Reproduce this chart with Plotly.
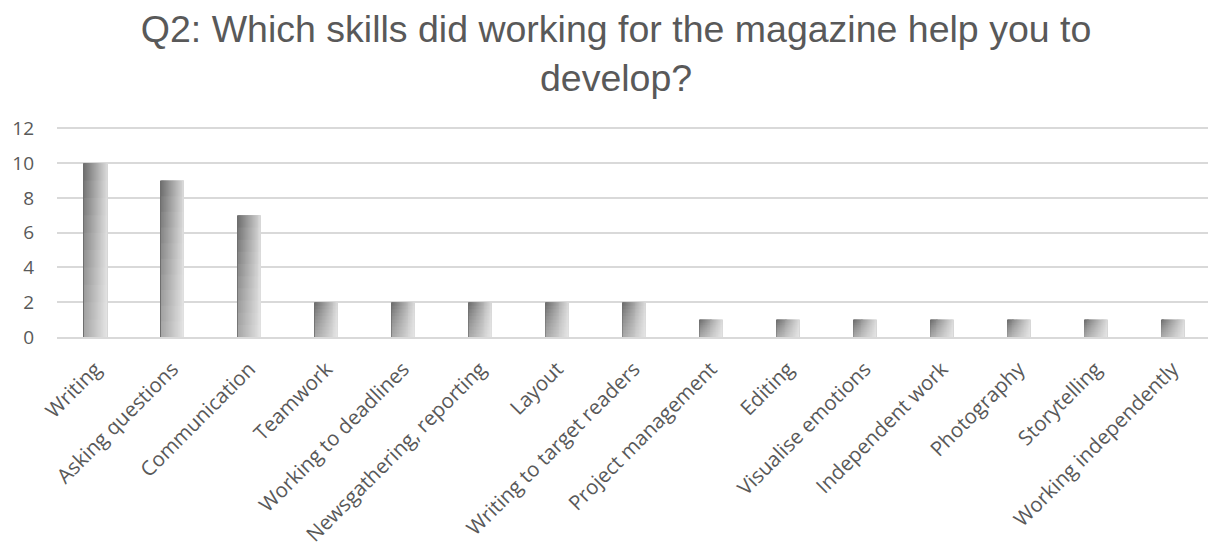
import plotly.graph_objects as go

categories = ["Writing", "Asking questions", "Communication", "Teamwork",
              "Working to deadlines", "Newsgathering, reporting", "Layout",
              "Writing to target readers", "Project management", "Editing",
              "Visualise emotions", "Independent work", "Photography",
              "Storytelling", "Working independently"]
values = [10, 9, 7, 2, 2, 2, 2, 2, 1, 1, 1, 1, 1, 1, 1]
y_ticks = [0, 2, 4, 6, 8, 10, 12]

title_text = "Q2: Which skills did working for the magazine help you to<br>develop?"

fig = go.Figure()

bar_w = 0.30
n_strips = 24
dark = (110, 110, 110)
light = (215, 215, 215)
for i in range(n_strips):
    t = i / (n_strips - 1)
    c = tuple(int(dark[k] + (light[k] - dark[k]) * t) for k in range(3))
    fig.add_trace(go.Bar(
        x=categories, y=values,
        width=bar_w / n_strips * 1.6 if i < n_strips - 1 else bar_w / n_strips,
        offset=-bar_w / 2 + i * bar_w / n_strips,
        marker=dict(color="rgb(%d,%d,%d)" % c, line=dict(width=0)),
        showlegend=False, hoverinfo="skip",
    ))

# vertical lightening toward the bottom
n_layers = 10
for j in range(1, n_layers):
    frac = 1 - j / n_layers
    fig.add_trace(go.Bar(
        x=categories, y=[v * frac for v in values],
        width=bar_w, offset=-bar_w / 2,
        marker=dict(color="rgba(255,255,255,0.055)", line=dict(width=0)),
        showlegend=False, hoverinfo="skip",
    ))

fig.update_layout(
    width=1208, height=547,
    barmode="overlay",
    paper_bgcolor="white", plot_bgcolor="white",
    margin=dict(l=57, r=0, t=127, b=210, autoexpand=False),
    title=dict(text=title_text, xref="container", x=0.51, xanchor="center",
               yref="container", y=1 - 42 / 547, yanchor="middle", automargin=False,
               font=dict(family="Liberation Sans, Arial, sans-serif", size=37.5, color="#595959")),
    font=dict(family="Open Sans, sans-serif", size=19, color="#595959"),
)
fig.update_xaxes(
    type="category", categoryorder="array", categoryarray=categories,
    range=[-0.5, 14.46], tickangle=-45, showgrid=False, automargin=False,
    showline=True, linecolor="#d9d9d9", linewidth=2, ticks="",
    ticklabelstandoff=10,
    tickfont=dict(family="Open Sans, sans-serif", size=20.5, color="#595959"),
)
fig.update_yaxes(
    range=[0, 12.08], tickvals=y_ticks, showgrid=True, gridcolor="#d9d9d9", gridwidth=2,
    zeroline=False, showline=False, ticks="", ticklabelstandoff=22, automargin=False,
    tickfont=dict(family="Open Sans, sans-serif", size=19, color="#595959"),
)

fig.write_html("out.html")
